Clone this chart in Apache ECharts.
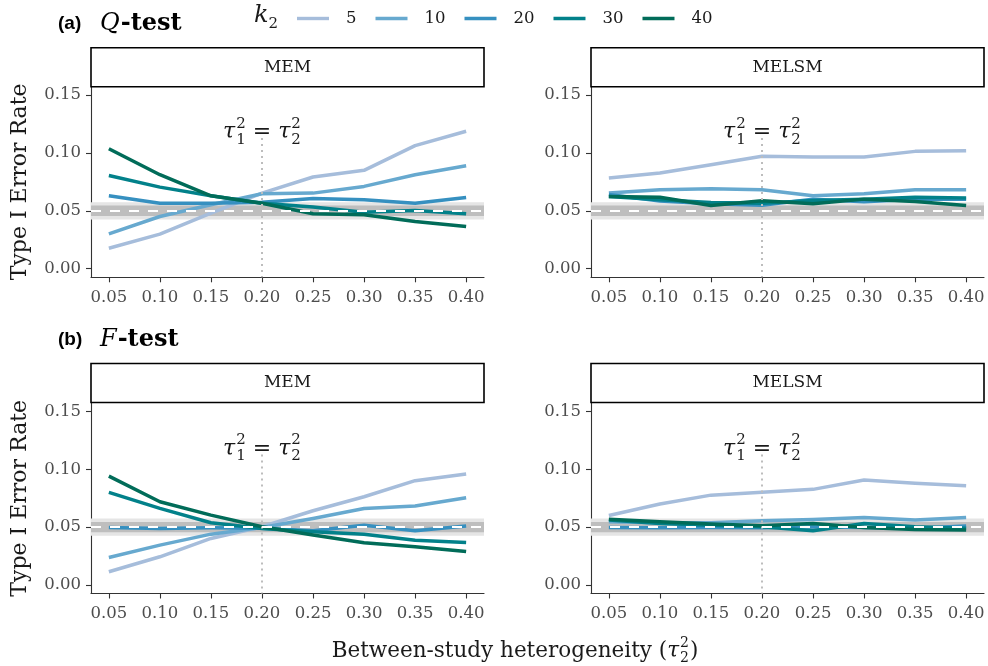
<!DOCTYPE html>
<html>
<head>
<meta charset="utf-8">
<script src="https://cdn.jsdelivr.net/npm/echarts@6/dist/echarts.min.js"></script>
<style>
  html, body { margin: 0; padding: 0; background: #ffffff; }
  #chart { width: 988px; height: 666px; }
</style>
</head>
<body>
<div id="chart"></div>
<script>
// Between-study heterogeneity levels (tau_2^2) on the x axis
const tau2Values = [0.05, 0.10, 0.15, 0.20, 0.25, 0.30, 0.35, 0.40];
const xTickValues = [0.05, 0.10, 0.15, 0.20, 0.25, 0.30, 0.35, 0.40];
const yTickValues = [0.00, 0.05, 0.10, 0.15];

// Number of studies in group 2
const k2Levels = ['5', '10', '20', '30', '40'];
const k2Colors = ['#a6bddb', '#67a9cf', '#3690c0', '#02818a', '#016c59'];

// Nominal alpha, its tolerance bands and the tau_1^2 = tau_2^2 marker
const nominalAlpha = 0.05;
const innerBand = [0.0455, 0.0545];
const outerBand = [0.0425, 0.0575];
const equalTau = 0.20;
const equalTauLineTop = 0.113;
const equalTauLabelY = 0.1175;

// (a) Q-test, MEM
const qMemK5  = [0.0176, 0.0298, 0.0480, 0.0653, 0.0792, 0.0850, 0.1064, 0.1188];
const qMemK10 = [0.0301, 0.0451, 0.0552, 0.0647, 0.0653, 0.0711, 0.0812, 0.0890];
const qMemK20 = [0.0630, 0.0566, 0.0566, 0.0575, 0.0607, 0.0595, 0.0566, 0.0616];
const qMemK30 = [0.0806, 0.0705, 0.0630, 0.0566, 0.0532, 0.0488, 0.0503, 0.0474];
const qMemK40 = [0.1037, 0.0812, 0.0630, 0.0566, 0.0474, 0.0465, 0.0408, 0.0364];

// (a) Q-test, MELSM
const qMelsmK5  = [0.0783, 0.0827, 0.0899, 0.0971, 0.0965, 0.0965, 0.1014, 0.1020];
const qMelsmK10 = [0.0653, 0.0682, 0.0691, 0.0682, 0.0630, 0.0647, 0.0682, 0.0682];
const qMelsmK20 = [0.0641, 0.0584, 0.0561, 0.0549, 0.0601, 0.0578, 0.0601, 0.0601];
const qMelsmK30 = [0.0624, 0.0595, 0.0572, 0.0566, 0.0589, 0.0601, 0.0618, 0.0610];
const qMelsmK40 = [0.0624, 0.0618, 0.0546, 0.0587, 0.0561, 0.0601, 0.0581, 0.0546];

// (b) F-test, MEM
const fMemK5  = [0.0113, 0.0243, 0.0402, 0.0503, 0.0642, 0.0763, 0.0902, 0.0960];
const fMemK10 = [0.0237, 0.0344, 0.0439, 0.0497, 0.0575, 0.0662, 0.0682, 0.0754];
const fMemK20 = [0.0497, 0.0488, 0.0494, 0.0491, 0.0468, 0.0517, 0.0468, 0.0509];
const fMemK30 = [0.0801, 0.0662, 0.0538, 0.0488, 0.0460, 0.0439, 0.0387, 0.0367];
const fMemK40 = [0.0942, 0.0720, 0.0604, 0.0503, 0.0431, 0.0364, 0.0330, 0.0289];

// (b) F-test, MELSM
const fMelsmK5  = [0.0601, 0.0700, 0.0777, 0.0803, 0.0827, 0.0908, 0.0879, 0.0858];
const fMelsmK10 = [0.0546, 0.0538, 0.0538, 0.0555, 0.0566, 0.0584, 0.0561, 0.0584];
const fMelsmK20 = [0.0497, 0.0494, 0.0497, 0.0494, 0.0503, 0.0497, 0.0491, 0.0509];
const fMelsmK30 = [0.0561, 0.0532, 0.0517, 0.0503, 0.0468, 0.0532, 0.0503, 0.0491];
const fMelsmK40 = [0.0569, 0.0546, 0.0526, 0.0512, 0.0532, 0.0497, 0.0480, 0.0474];

const panelSeries = [
  [qMemK5, qMemK10, qMemK20, qMemK30, qMemK40],
  [qMelsmK5, qMelsmK10, qMelsmK20, qMelsmK30, qMelsmK40],
  [fMemK5, fMemK10, fMemK20, fMemK30, fMemK40],
  [fMelsmK5, fMelsmK10, fMelsmK20, fMelsmK30, fMelsmK40]
];
const stripLabels = ['MEM', 'MELSM', 'MEM', 'MELSM'];

// Panel geometry
const panelBoxes = [
  { left: 91,  top: 86.5, width: 393, height: 190.8 },
  { left: 591, top: 86.5, width: 393, height: 190.8 },
  { left: 91,  top: 403,  width: 393, height: 190.5 },
  { left: 591, top: 403,  width: 393, height: 190.5 }
];
const stripTops = [47.7, 47.7, 363.5, 363.5];
const xRange = [0.0325, 0.4175];
const yRange = [-0.0075, 0.1575];

const SERIF = '"DejaVu Serif", "Liberation Serif", serif';
const SANS = '"Liberation Sans", Arial, sans-serif';
const INK = '#1a1a1a';
const TICK_TEXT = '#4d4d4d';

// Text measuring for the typeset math pieces
const measureCtx = document.createElement('canvas').getContext('2d');
function textWidth(font, s) { measureCtx.font = font; return measureCtx.measureText(s).width; }

// Lay out a row of tokens; stacked tokens put a superscript over a subscript
function mathRow(tokens, startX, cy) {
  const out = [];
  let x = startX;
  tokens.forEach(tk => {
    if (tk.stack) {
      const f = tk.font;
      const w = Math.max(textWidth(f, tk.stack[0]), textWidth(f, tk.stack[1]));
      out.push({ type: 'text', x: x, y: cy + tk.supDy, style: { text: tk.stack[0], font: f, fill: INK, align: 'left', verticalAlign: 'middle', textAlign: 'left', textVerticalAlign: 'middle' } });
      out.push({ type: 'text', x: x, y: cy + tk.subDy, style: { text: tk.stack[1], font: f, fill: INK, align: 'left', verticalAlign: 'middle', textAlign: 'left', textVerticalAlign: 'middle' } });
      x += w + (tk.after || 0);
    } else {
      out.push({ type: 'text', x: x, y: cy + (tk.dy || 0), style: { text: tk.text, font: tk.font, fill: INK, align: 'left', verticalAlign: 'middle', textAlign: 'left', textVerticalAlign: 'middle' } });
      x += textWidth(tk.font, tk.text) + (tk.after || 0);
    }
  });
  return { elements: out, width: x - startX };
}
function centeredMath(tokens, cx, cy) {
  const probe = mathRow(tokens, 0, cy);
  return mathRow(tokens, cx - probe.width / 2, cy).elements;
}

const eqMain = 'italic 22px ' + SERIF;
const eqScript = '15px ' + SERIF;
const equalTauTokens = [
  { text: 'τ', font: eqMain, after: 1 },
  { stack: ['2', '1'], font: eqScript, supDy: -9, subDy: 7, after: 0 },
  { text: ' = ', font: '22px ' + SERIF },
  { text: 'τ', font: eqMain, after: 1 },
  { stack: ['2', '2'], font: eqScript, supDy: -9, subDy: 7 }
];

const grids = panelBoxes.map(b => ({ left: b.left, top: b.top, width: b.width, height: b.height, outerBoundsMode: 'none', containLabel: false }));

const xAxes = panelBoxes.map((b, i) => ({
  type: 'value', gridIndex: i, min: xRange[0], max: xRange[1],
  axisLine: { show: true, onZero: false, lineStyle: { color: '#333333', width: 1.1 } },
  axisTick: { show: true, length: 5, customValues: xTickValues, lineStyle: { color: '#333333', width: 1.1 } },
  axisLabel: { show: true, customValues: xTickValues, margin: 12, color: TICK_TEXT, fontFamily: SERIF, fontSize: 16.5, formatter: v => v.toFixed(2) },
  splitLine: { show: false }
}));

const yAxes = panelBoxes.map((b, i) => ({
  type: 'value', gridIndex: i, min: yRange[0], max: yRange[1],
  name: (i % 2 === 0) ? 'Type I Error Rate' : '',
  nameLocation: 'middle', nameGap: 60, nameRotate: 90,
  nameTextStyle: { fontFamily: SERIF, fontSize: 22, color: INK },
  axisLine: { show: true, onZero: false, lineStyle: { color: '#333333', width: 1.1 } },
  axisTick: { show: true, length: 5, customValues: yTickValues, lineStyle: { color: '#333333', width: 1.1 } },
  axisLabel: { show: true, customValues: yTickValues, margin: 10, color: TICK_TEXT, fontFamily: SERIF, fontSize: 16.5, formatter: v => v.toFixed(2) },
  splitLine: { show: false }
}));

const series = [];
panelSeries.forEach((lines, p) => {
  // tolerance bands and the dotted tau_1^2 = tau_2^2 guide
  series.push({
    type: 'line', name: 'bands', data: [], xAxisIndex: p, yAxisIndex: p, z: 1, silent: true,
    markArea: {
      silent: true,
      data: [
        [{ yAxis: outerBand[0], itemStyle: { color: '#e5e5e5' } }, { yAxis: outerBand[1] }],
        [{ yAxis: innerBand[0], itemStyle: { color: '#bebebe' } }, { yAxis: innerBand[1] }]
      ]
    },
    markLine: {
      silent: true, symbol: 'none', label: { show: false },
      lineStyle: { color: '#bdbdbd', width: 2, type: [2, 4] },
      data: [[{ coord: [equalTau, equalTauLineTop] }, { coord: [equalTau, yRange[0]] }]]
    }
  });
  lines.forEach((vals, k) => {
    series.push({
      type: 'line', name: k2Levels[k], xAxisIndex: p, yAxisIndex: p, z: 2,
      data: tau2Values.map((x, j) => [x, vals[j]]),
      color: k2Colors[k], symbol: 'none', showSymbol: false,
      lineStyle: { color: k2Colors[k], width: 3.5, cap: 'butt', join: 'round' },
      emphasis: { disabled: true }, silent: true
    });
  });
  // nominal alpha level
  series.push({
    type: 'line', name: 'nominal', data: [], xAxisIndex: p, yAxisIndex: p, z: 3, silent: true,
    markLine: {
      silent: true, symbol: 'none', label: { show: false },
      lineStyle: { color: '#ffffff', width: 2, type: [10, 9] },
      data: [{ yAxis: nominalAlpha }]
    }
  });
  // "tau_1^2 = tau_2^2" annotation
  series.push({
    type: 'custom', name: 'equal-tau-label', xAxisIndex: p, yAxisIndex: p, z: 4, silent: true,
    data: [[equalTau, equalTauLabelY]],
    renderItem: (params, api) => {
      const c = api.coord([api.value(0), api.value(1)]);
      return { type: 'group', children: centeredMath(equalTauTokens, c[0], c[1]) };
    }
  });
});

// Facet strips, panel titles, legend title and x-axis title
const graphics = [];
panelBoxes.forEach((b, i) => {
  graphics.push({ type: 'rect', shape: { x: b.left, y: stripTops[i], width: b.width, height: 39 },
    style: { fill: '#ffffff', stroke: '#000000', lineWidth: 1.6 }, z: 10 });
  graphics.push({ type: 'text', x: b.left + b.width / 2, y: stripTops[i] + 19.5, z: 11,
    style: { text: stripLabels[i], font: '17px ' + SERIF, fill: INK, align: 'center', verticalAlign: 'middle', textAlign: 'center', textVerticalAlign: 'middle' } });
});

function panelTitle(tag, letter, rest, y) {
  const els = [];
  els.push({ type: 'text', x: 58, y: y, style: { text: tag, font: 'bold 19px ' + SANS, fill: '#000', align: 'left', verticalAlign: 'middle', textAlign: 'left', textVerticalAlign: 'middle' } });
  const qFont = 'italic 24px ' + SERIF;
  const wq = textWidth(qFont, letter);
  els.push({ type: 'text', x: 100, y: y, style: { text: letter, font: qFont, fill: '#000', align: 'left', verticalAlign: 'middle', textAlign: 'left', textVerticalAlign: 'middle' } });
  els.push({ type: 'text', x: 100 + wq + 1, y: y, style: { text: rest, font: 'bold 24px ' + SERIF, fill: '#000', align: 'left', verticalAlign: 'middle', textAlign: 'left', textVerticalAlign: 'middle' } });
  return els;
}
graphics.push(...panelTitle('(a)', 'Q', '-test', 24));
graphics.push(...panelTitle('(b)', 'F', '-test', 340));

// legend title k_2
graphics.push({ type: 'text', x: 254, y: 16, style: { text: 'k', font: 'italic 24px ' + SERIF, fill: INK, align: 'left', verticalAlign: 'middle', textAlign: 'left', textVerticalAlign: 'middle' } });
graphics.push({ type: 'text', x: 254 + textWidth('italic 24px ' + SERIF, 'k'), y: 24, style: { text: '2', font: '15px ' + SERIF, fill: INK, align: 'left', verticalAlign: 'middle', textAlign: 'left', textVerticalAlign: 'middle' } });

// x-axis title
const xTitleTokens = [
  { text: 'Between-study heterogeneity (', font: '21.5px ' + SERIF },
  { text: 'τ', font: 'italic 21.5px ' + SERIF, after: 1 },
  { stack: ['2', '2'], font: '14px ' + SERIF, supDy: -8, subDy: 7, after: 1 },
  { text: ')', font: '21.5px ' + SERIF }
];
graphics.push({ type: 'group', children: centeredMath(xTitleTokens, 515, 651) });

const chart = echarts.init(document.getElementById('chart'), null, { renderer: 'canvas' });
chart.setOption({
  animation: false,
  backgroundColor: '#ffffff',
  grid: grids,
  xAxis: xAxes,
  yAxis: yAxes,
  legend: {
    data: k2Levels, left: 292, top: 5, icon: 'rect', itemWidth: 32, itemHeight: 3.4, itemGap: 19,
    selectedMode: false,
    textStyle: { fontFamily: SERIF, fontSize: 16.5, color: INK, padding: [0, 0, 0, 12] }
  },
  series: series,
  graphic: { elements: graphics }
});
</script>
</body>
</html>
